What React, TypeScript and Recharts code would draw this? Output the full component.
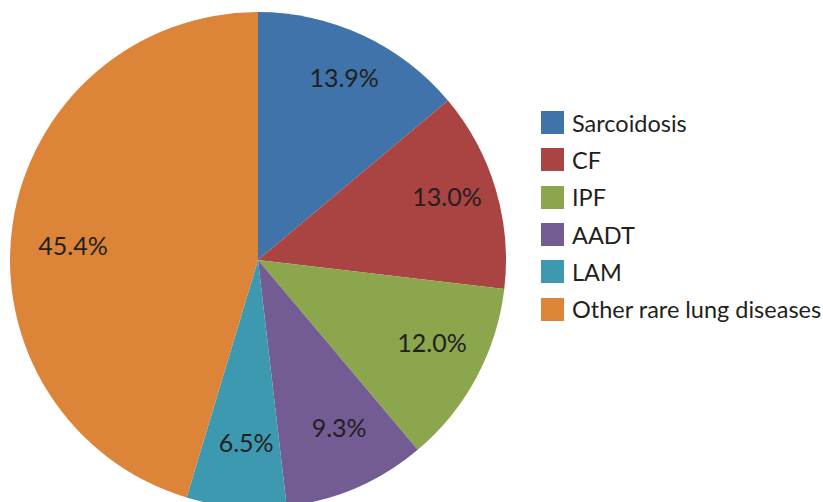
import { PieChart, Pie, Cell, Legend } from 'recharts';

const categories = ['Sarcoidosis', 'CF', 'IPF', 'AADT', 'LAM', 'Other rare lung diseases'];
const shares = [13.9, 13.0, 12.0, 9.3, 6.5, 45.4];
const colors = ['#3F73A9', '#AA4443', '#8BA64C', '#735B93', '#3C99AF', '#DC8438'];

const data = categories.map((name, i) => ({ name, value: shares[i] }));

const RAD = Math.PI / 180;
const FONT = 'Lato, "Open Sans", sans-serif';

// the big slice's label sits lower in the source
const labelNudgeY: Record<string, number> = { 'Other rare lung diseases': 13 };

function renderLabel(props: any) {
  const { cx, cy, midAngle, value, name } = props;
  const r = 192;
  const x = cx + r * Math.cos(-midAngle * RAD) + 5;
  const y = cy + r * Math.sin(-midAngle * RAD) + (labelNudgeY[name] ?? -9);
  return (
    <text
      x={x}
      y={y}
      fill="#231F20"
      fontSize={25}
      fontFamily={FONT}
      textAnchor="middle"
      dominantBaseline="central"
    >
      {value.toFixed(1)}%
    </text>
  );
}

function LegendBox() {
  return (
    <div style={{ fontFamily: FONT, fontSize: 23.5, color: '#231F20' }}>
      {categories.map((name, i) => (
        <div key={name} style={{ display: 'flex', alignItems: 'center', height: 37.3 }}>
          <span
            style={{
              display: 'inline-block',
              width: 23,
              height: 23,
              background: colors[i],
              marginRight: 8,
            }}
          />
          {name}
        </div>
      ))}
    </div>
  );
}

export default function App() {
  return (
    <div style={{ position: 'fixed', left: 0, top: 0, width: 823, height: 502, background: '#fff' }}>
      <PieChart width={823} height={502} margin={{ top: 0, right: 0, bottom: 0, left: 0 }}>
        <Pie
          data={data}
          dataKey="value"
          nameKey="name"
          cx={258}
          cy={260}
          outerRadius={248}
          startAngle={90}
          endAngle={-270}
          stroke="none"
          label={renderLabel}
          labelLine={false}
          isAnimationActive={false}
        >
          {data.map((d, i) => (
            <Cell key={d.name} fill={colors[i]} />
          ))}
        </Pie>
        <Legend
          content={() => <LegendBox />}
          wrapperStyle={{ position: 'absolute', left: 541, top: 104, width: 282, height: 230 }}
        />
      </PieChart>
    </div>
  );
}
